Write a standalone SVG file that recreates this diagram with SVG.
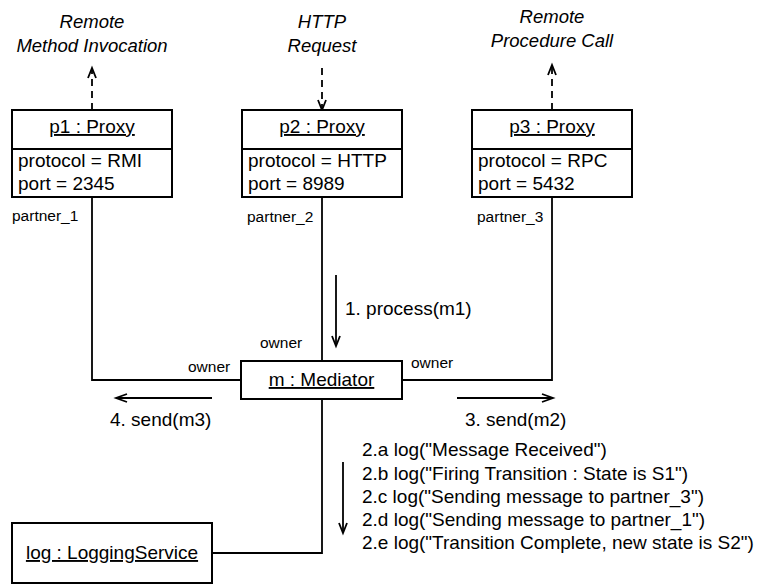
<svg xmlns="http://www.w3.org/2000/svg" width="763" height="584" viewBox="0 0 763 584">
<style>
text{font-family:"Liberation Sans",Arial,Helvetica,sans-serif;fill:#000}
.t{font-size:19px}
.s{font-size:15.5px}
.i{font-size:18.5px;font-style:italic}
.u{text-decoration:underline}
.box{fill:#fff;stroke:#000;stroke-width:2}
.ln{fill:none;stroke:#000;stroke-width:1.8}
.dash{fill:none;stroke:#000;stroke-width:1.8;stroke-dasharray:7 5}
.ah{fill:none;stroke:#000;stroke-width:1.8}
</style>
<rect width="763" height="584" fill="#fff"/>
<g id="connectors">
<path class="ln" d="M92 197 V380 H241"/>
<path class="ln" d="M322 197 V362"/>
<path class="ln" d="M402 380 H552 V197"/>
<path class="ln" d="M322 399 V553 H212"/>
<path class="dash" d="M92 110 V70"/>
<path class="ah" d="M88 78 L92 68 L96 78"/>
<path class="dash" d="M322 68 V108"/>
<path class="ah" d="M318 100 L322 110 L326 100"/>
<path class="dash" d="M552 110 V67"/>
<path class="ah" d="M548 75 L552 65 L556 75"/>
<path class="ln" d="M336 275 V345"/>
<path class="ah" d="M332 336 L336 346 L340 336"/>
<path class="ln" d="M212 398 H117"/>
<path class="ah" d="M127 394 L116 398 L127 402"/>
<path class="ln" d="M457 398 H552"/>
<path class="ah" d="M542 394 L553 398 L542 402"/>
<path class="ln" d="M343 462 V532"/>
<path class="ah" d="M339 523 L343 533 L347 523"/>
<text class="s" x="12" y="221">partner_1</text>
<text class="s" x="247" y="222">partner_2</text>
<text class="s" x="477" y="222">partner_3</text>
<text class="s" x="260" y="348">owner</text>
<text class="s" x="188" y="372">owner</text>
<text class="s" x="411" y="368">owner</text>
<text class="t" x="345" y="315">1. process(m1)</text>
<text class="t" x="110" y="426">4. send(m3)</text>
<text class="t" x="465" y="426">3. send(m2)</text>
<text class="t" x="362" y="456">2.a log("Message Received")</text>
<text class="t" x="362" y="480">2.b log("Firing Transition : State is S1")</text>
<text class="t" x="362" y="503">2.c log("Sending message to partner_3")</text>
<text class="t" x="362" y="526">2.d log("Sending message to partner_1")</text>
<text class="t" x="362" y="549">2.e log("Transition Complete, new state is S2")</text>
<text class="i" x="92" y="28" text-anchor="middle">Remote</text>
<text class="i" x="92" y="52" text-anchor="middle">Method Invocation</text>
<text class="i" x="322" y="28" text-anchor="middle">HTTP</text>
<text class="i" x="322" y="52" text-anchor="middle">Request</text>
<text class="i" x="552" y="23" text-anchor="middle">Remote</text>
<text class="i" x="552" y="47" text-anchor="middle">Procedure Call</text>
</g>
<g id="p1">
<rect class="box" x="12" y="110" width="160" height="87"/>
<line class="ln" x1="12" y1="149" x2="172" y2="149"/>
<text class="t u" x="92" y="133" text-anchor="middle">p1 : Proxy</text>
<text class="t" x="18" y="167">protocol = RMI</text>
<text class="t" x="18" y="190">port = 2345</text>
</g>
<g id="p2">
<rect class="box" x="242" y="110" width="160" height="87"/>
<line class="ln" x1="242" y1="149" x2="402" y2="149"/>
<text class="t u" x="322" y="133" text-anchor="middle">p2 : Proxy</text>
<text class="t" x="248" y="167">protocol = HTTP</text>
<text class="t" x="248" y="190">port = 8989</text>
</g>
<g id="p3">
<rect class="box" x="472" y="110" width="160" height="87"/>
<line class="ln" x1="472" y1="149" x2="632" y2="149"/>
<text class="t u" x="552" y="133" text-anchor="middle">p3 : Proxy</text>
<text class="t" x="478" y="167">protocol = RPC</text>
<text class="t" x="478" y="190">port = 5432</text>
</g>
<g id="mediator">
<rect class="box" x="241" y="361" width="161" height="38"/>
<text class="t u" x="321.5" y="386" text-anchor="middle">m : Mediator</text>
</g>
<g id="log">
<rect class="box" x="12" y="523" width="200" height="60"/>
<text class="t u" x="112" y="559" text-anchor="middle">log : LoggingService</text>
</g>
</svg>
